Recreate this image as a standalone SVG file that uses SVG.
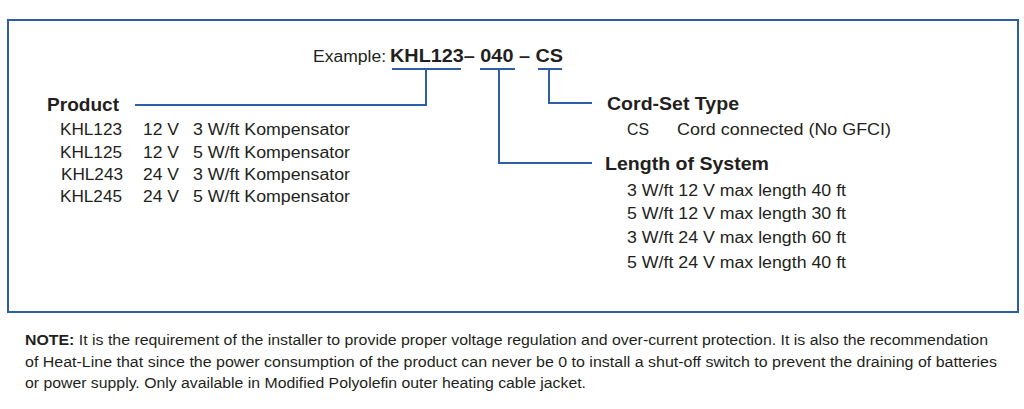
<svg xmlns="http://www.w3.org/2000/svg" width="1024" height="409" viewBox="0 0 1024 409">
<style>
text{font-family:"Liberation Sans",Arial,sans-serif;fill:#231f20}
.h{font-size:19px;font-weight:bold}
.t{font-size:16px}
.n{font-size:14px}
.c{fill:none;stroke:#2f5ea8;stroke-width:2}
</style>
<rect x="8" y="20" width="1010" height="292" fill="#fff" stroke="#2f5ea8" stroke-width="2"/>
<g id="example">
<text x="313" y="62" font-size="16" textLength="73" lengthAdjust="spacingAndGlyphs">Example:</text>
<text x="390" y="62" font-size="19" font-weight="bold" textLength="173" lengthAdjust="spacingAndGlyphs">KHL123– 040 – CS</text>
</g>
<g id="connectors" class="c">
<path d="M392 69H461M426 69V105H135"/>
<path d="M480 69H515M499 69V163H592"/>
<path d="M538 69H562M549 69V103H592"/>
</g>
<g id="product">
<text class="h" x="47" y="111" textLength="72" lengthAdjust="spacingAndGlyphs">Product</text>
<g class="t">
<text x="60" y="135" textLength="62" lengthAdjust="spacingAndGlyphs">KHL123</text><text x="143" y="135" textLength="36" lengthAdjust="spacingAndGlyphs">12 V</text><text x="193" y="135" textLength="157" lengthAdjust="spacingAndGlyphs">3 W/ft Kompensator</text>
<text x="60" y="158" textLength="62" lengthAdjust="spacingAndGlyphs">KHL125</text><text x="143" y="158" textLength="36" lengthAdjust="spacingAndGlyphs">12 V</text><text x="193" y="158" textLength="157" lengthAdjust="spacingAndGlyphs">5 W/ft Kompensator</text>
<text x="61" y="180" textLength="62" lengthAdjust="spacingAndGlyphs">KHL243</text><text x="143" y="180" textLength="36" lengthAdjust="spacingAndGlyphs">24 V</text><text x="193" y="180" textLength="157" lengthAdjust="spacingAndGlyphs">3 W/ft Kompensator</text>
<text x="60" y="202" textLength="62" lengthAdjust="spacingAndGlyphs">KHL245</text><text x="143" y="202" textLength="36" lengthAdjust="spacingAndGlyphs">24 V</text><text x="193" y="202" textLength="157" lengthAdjust="spacingAndGlyphs">5 W/ft Kompensator</text>
</g>
</g>
<g id="cordset">
<text class="h" x="607" y="110" textLength="132" lengthAdjust="spacingAndGlyphs">Cord-Set Type</text>
<text class="t" x="627" y="135" textLength="22" lengthAdjust="spacingAndGlyphs">CS</text>
<text class="t" x="677" y="135" textLength="214" lengthAdjust="spacingAndGlyphs">Cord connected (No GFCI)</text>
</g>
<g id="length">
<text class="h" x="605" y="170" textLength="164" lengthAdjust="spacingAndGlyphs">Length of System</text>
<g class="t">
<text x="627" y="196" textLength="219" lengthAdjust="spacingAndGlyphs">3 W/ft 12 V max length 40 ft</text>
<text x="627" y="219" textLength="219" lengthAdjust="spacingAndGlyphs">5 W/ft 12 V max length 30 ft</text>
<text x="627" y="243" textLength="219" lengthAdjust="spacingAndGlyphs">3 W/ft 24 V max length 60 ft</text>
<text x="627" y="268" textLength="219" lengthAdjust="spacingAndGlyphs">5 W/ft 24 V max length 40 ft</text>
</g>
</g>
<g id="note" class="n">
<text x="25" y="345" textLength="963" lengthAdjust="spacingAndGlyphs"><tspan font-weight="bold">NOTE:</tspan> It is the requirement of the installer to provide proper voltage regulation and over-current protection. It is also the recommendation</text>
<text x="25" y="367" textLength="972" lengthAdjust="spacingAndGlyphs">of Heat-Line that since the power consumption of the product can never be 0 to install a shut-off switch to prevent the draining of batteries</text>
<text x="25" y="388" textLength="561" lengthAdjust="spacingAndGlyphs">or power supply. Only available in Modified Polyolefin outer heating cable jacket.</text>
</g>
</svg>
